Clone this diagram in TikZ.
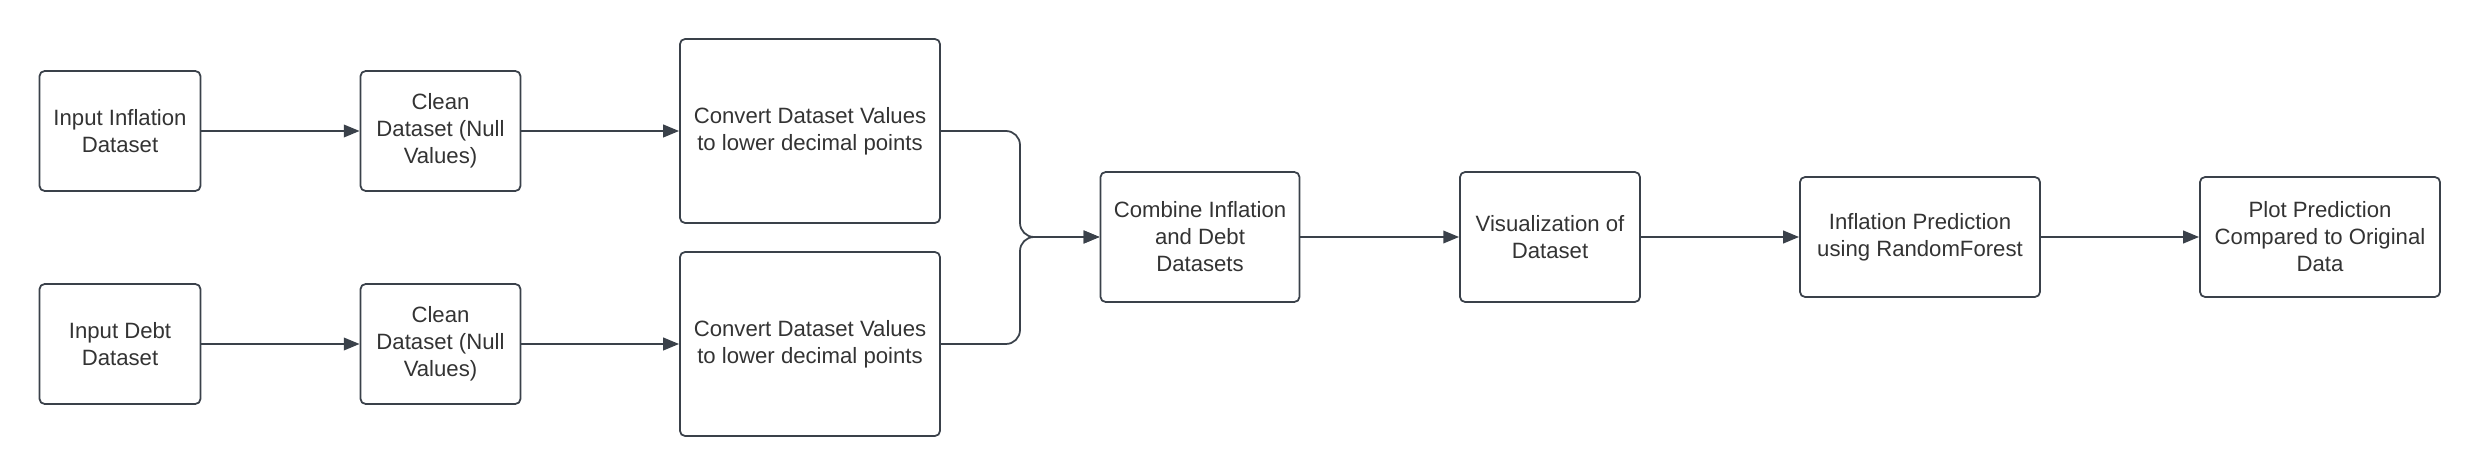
\documentclass[tikz,border=0pt]{standalone}
\usepackage{fontspec}
\setmainfont{Liberation Sans}
\usetikzlibrary{arrows.meta}
\definecolor{stroke}{HTML}{3A414A}
\definecolor{txt}{HTML}{333333}
\tikzset{
  box/.style={draw=stroke, line width=0.5pt, rounded corners=1.5pt, align=center,
    font=\fontsize{6.3}{7.7}\selectfont, text=txt, inner sep=1pt},
  conn/.style={draw=stroke, line width=0.5pt, -{Triangle[length=4.5pt,width=3.6pt]}},
}
\begin{document}
\begin{tikzpicture}[x=0.01cm,y=-0.01cm]
\useasboundingbox (0,0) rectangle (2480,476);
\node[box, minimum width=16.1mm, minimum height=12mm] (a1) at (120,131) {Input Inflation\\Dataset};
\node[box, minimum width=16.0mm, minimum height=12mm] (b1) at (440.5,131) {Clean\\Dataset (Null\\Values)};
\node[box, minimum width=26mm, minimum height=18.4mm] (c1) at (810,131) {Convert Dataset Values\\to lower decimal points};
\node[box, minimum width=16.1mm, minimum height=12mm] (a2) at (120,344) {Input Debt\\Dataset};
\node[box, minimum width=16.0mm, minimum height=12mm] (b2) at (440.5,344) {Clean\\Dataset (Null\\Values)};
\node[box, minimum width=26mm, minimum height=18.4mm] (c2) at (810,344) {Convert Dataset Values\\to lower decimal points};
\node[box, minimum width=19.9mm, minimum height=13mm] (d) at (1200,237) {Combine Inflation\\and Debt\\Datasets};
\node[box, minimum width=18mm, minimum height=13mm] (e) at (1550,237) {Visualization of\\Dataset};
\node[box, minimum width=24mm, minimum height=12mm] (f) at (1920,237) {Inflation Prediction\\using RandomForest};
\node[box, minimum width=24mm, minimum height=12mm] (g) at (2320,237) {Plot Prediction\\Compared to Original\\Data};
\coordinate (j) at (1020,237);
\draw[conn] (a1) -- (b1);
\draw[conn] (b1) -- (c1);
\draw[conn] (a2) -- (b2);
\draw[conn] (b2) -- (c2);
\draw[conn, rounded corners=4pt] (c1.east) -| (j) -- (d.west);
\draw[conn, rounded corners=4pt] (c2.east) -| (j) -- (d.west);
\draw[conn] (d) -- (e);
\draw[conn] (e) -- (f);
\draw[conn] (f) -- (g);
\end{tikzpicture}
\end{document}
